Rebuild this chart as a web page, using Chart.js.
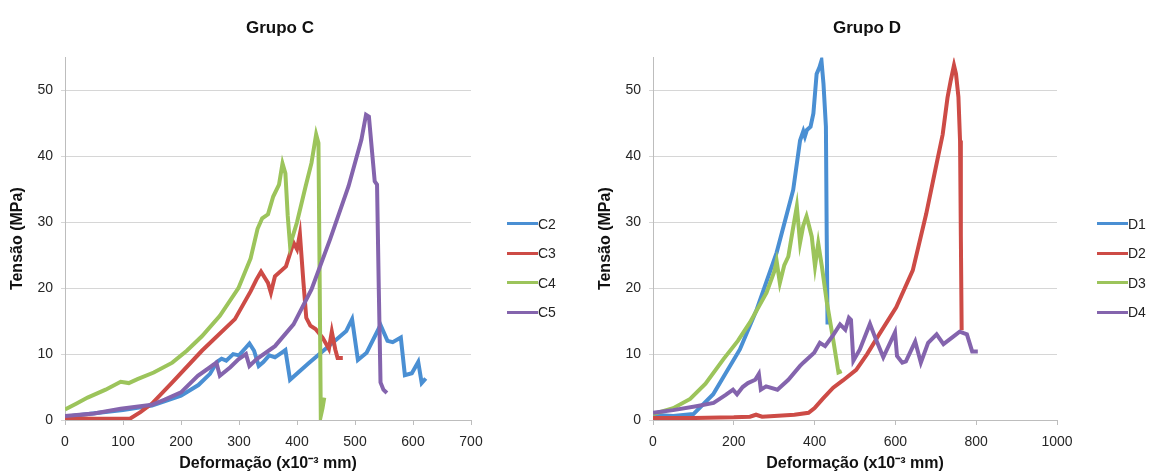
<!DOCTYPE html>
<html>
<head>
<meta charset="utf-8">
<script src="https://cdn.jsdelivr.net/npm/chart.js@4"></script>
<style>
  body { margin: 0; width: 1150px; height: 473px; position: relative; background: #fff; overflow: hidden; }
  .wrap { position: absolute; top: 0; height: 473px; }
  .legend { position: absolute; font-family: 'Liberation Sans', Arial, sans-serif; font-size: 14px; color: #222; }
  .legend div { height: 29.5px; display: flex; align-items: center; }
  .legend span.swatch { display: inline-block; width: 31px; height: 3px; }
</style>
</head>
<body>
<div class="wrap" style="left:0; width:560px"><canvas id="chart-c"></canvas></div>
<div class="wrap" style="left:588px; width:558px"><canvas id="chart-d"></canvas></div>
<div class="legend" id="legend-c" style="left:507px; top:209px"></div>
<div class="legend" id="legend-d" style="left:1097px; top:209px"></div>
<script>
// Grupo C - deformação (x10^-3 mm) / tensão (MPa)
const c2Def = [0, 40, 100, 150, 200, 230, 250, 262, 270, 278, 290, 300, 312, 318, 326, 334, 342, 352, 362, 372, 380, 388, 420, 460, 485, 495, 505, 520, 544, 556, 565, 579, 586, 598, 609, 615, 622];
const c2Ten = [0.5, 0.9, 1.5, 2.2, 3.7, 5.3, 7.0, 8.8, 9.3, 9.0, 10.0, 9.8, 11.0, 11.6, 10.5, 8.2, 8.8, 9.8, 9.5, 10.1, 10.6, 6.1, 8.6, 11.6, 13.5, 15.3, 9.1, 10.2, 14.4, 12.0, 11.8, 12.5, 6.8, 7.1, 8.8, 5.6, 6.3];
const c3Def = [0, 50, 100, 112, 130, 150, 185, 236, 293, 320, 330, 338, 345, 350, 355, 362, 381, 394, 400, 405, 411, 416, 423, 432, 444, 455, 460, 466, 470, 479];
const c3Ten = [0.3, 0.2, 0.2, 0.2, 1.2, 2.5, 5.7, 10.5, 15.3, 19.5, 21.3, 22.5, 21.5, 20.8, 19.3, 21.8, 23.3, 26.9, 25.9, 28.2, 21.0, 15.5, 14.3, 13.8, 12.5, 10.8, 13.4, 10.7, 9.4, 9.4];
const c4Def = [0, 20, 39, 70, 96, 110, 125, 153, 185, 210, 236, 267, 299, 320, 332, 340, 350, 359, 369, 375, 380, 384, 388, 400, 415, 425, 433, 437, 439, 441, 444, 447];
const c4Ten = [1.6, 2.5, 3.4, 4.6, 5.8, 5.6, 6.2, 7.2, 8.7, 10.5, 12.7, 15.8, 20.0, 24.5, 29.0, 30.6, 31.2, 33.9, 35.7, 38.9, 37.4, 31.0, 26.5, 30.0, 35.5, 39.0, 43.3, 42.0, 22.0, 0.6, 1.8, 3.4];
const c5Def = [0, 50, 96, 150, 172, 200, 229, 250, 261, 267, 285, 299, 312, 318, 330, 362, 394, 425, 457, 489, 511, 519, 524, 534, 538, 541, 544, 549, 555];
const c5Ten = [0.6, 1.0, 1.7, 2.3, 3.1, 4.2, 6.7, 8.0, 8.7, 6.7, 8.0, 9.2, 10.0, 8.2, 9.2, 11.2, 14.5, 19.8, 27.4, 35.5, 42.5, 46.3, 46.0, 36.2, 35.7, 20.0, 5.7, 4.6, 4.1];

// Grupo D
const d1Def = [0, 50, 100, 149, 174, 215, 257, 306, 347, 364, 372, 376, 381, 390, 397, 405, 412, 417, 422, 428, 430, 432];
const d1Ten = [0.8, 0.6, 0.9, 3.9, 6.5, 10.7, 16.8, 25.4, 34.9, 42.4, 43.8, 43.0, 44.0, 44.5, 46.5, 52.5, 53.5, 54.5, 51.0, 44.5, 28.0, 14.5];
const d2Def = [0, 100, 200, 240, 255, 270, 300, 350, 385, 400, 420, 446, 470, 503, 530, 561, 602, 643, 676, 700, 717, 729, 737, 745, 750, 756, 760, 762, 764];
const d2Ten = [0.3, 0.3, 0.4, 0.5, 0.8, 0.5, 0.6, 0.8, 1.1, 1.8, 3.2, 4.9, 6.0, 7.6, 10.0, 13.1, 17.1, 22.7, 31.2, 38.3, 43.3, 48.9, 51.5, 53.8, 52.5, 49.0, 42.4, 28.0, 13.6];
const d3Def = [0, 50, 92, 130, 174, 210, 240, 281, 300, 306, 314, 325, 335, 345, 356, 364, 372, 380, 386, 393, 401, 409, 418, 430, 446, 459, 467];
const d3Ten = [0.9, 1.8, 3.2, 5.5, 9.2, 12.0, 14.8, 19.3, 22.5, 24.1, 20.8, 23.5, 24.8, 28.5, 32.4, 26.9, 29.5, 30.9, 29.5, 27.8, 23.3, 26.8, 23.3, 18.0, 12.2, 7.2, 7.4];
const d4Def = [0, 50, 107, 150, 180, 198, 208, 222, 235, 253, 262, 267, 280, 308, 335, 364, 372, 399, 413, 426, 444, 463, 476, 485, 490, 496, 512, 537, 550, 570, 599, 604, 617, 626, 649, 663, 681, 702, 719, 740, 759, 777, 790, 804];
const d4Ten = [1.1, 1.5, 2.1, 2.6, 3.8, 4.6, 3.9, 5.0, 5.6, 6.1, 7.0, 4.6, 5.1, 4.6, 6.1, 8.2, 8.7, 10.2, 11.7, 11.2, 12.7, 14.5, 13.7, 15.5, 15.2, 9.0, 10.7, 14.6, 12.5, 9.5, 13.3, 9.7, 8.7, 8.9, 11.9, 8.7, 11.7, 13.0, 11.5, 12.5, 13.4, 13.0, 10.4, 10.4];

const seriesColors = ['#4a8fd3', '#cd4b46', '#9cc45b', '#8464ad'];

Chart.defaults.font.family = "'Liberation Sans', Arial, sans-serif";
Chart.defaults.color = '#262626';

function makeDatasets(names, defs, tens) {
    return names.map((name, i) => ({
        label: name,
        data: defs[i].map((x, j) => ({ x: x, y: tens[i][j] })),
        xAxisID: 'x',
        yAxisID: 'y',
        borderColor: seriesColors[i],
        backgroundColor: seriesColors[i],
        borderWidth: 4,
        pointRadius: 0,
        tension: 0,
        fill: false,
        order: names.length - i   // later series drawn on top, like the original
    }));
}

// legendSpace: empty room right of the plot (the html legend sits there),
// kept as a blank right-hand box so the title still centres on the whole canvas
function buildChart(canvasId, title, datasets, xMax, xStep, legendSpace) {
    return new Chart(document.getElementById(canvasId), {
        type: 'line',
        data: { datasets: datasets },
        options: {
            responsive: true,
            maintainAspectRatio: false,
            animation: false,
            layout: { padding: 0 },
            plugins: {
                legend: { display: false },
                tooltip: { enabled: false },
                title: {
                    display: true,
                    text: title,
                    color: '#111',
                    font: { size: 17, weight: 'bold' },
                    padding: { top: 18, bottom: 19 }
                }
            },
            scales: {
                x: {
                    type: 'linear',
                    min: 0,
                    max: xMax,
                    ticks: { stepSize: xStep, padding: 9, font: { size: 14 }, callback: v => String(v) },
                    grid: { drawOnChartArea: false, drawTicks: true, tickLength: 5, color: '#bdbdbd' },
                    border: { color: '#bdbdbd' },
                    title: { display: true, text: 'Deformação (x10⁻³ mm)', color: '#111', font: { size: 16, weight: 'bold' }, padding: { top: 0, bottom: 0 } },
                    afterFit: scale => { scale.height = 53; }
                },
                y: {
                    min: 0,
                    max: 55,
                    ticks: { stepSize: 10, padding: 8, font: { size: 14 } },
                    afterBuildTicks: scale => { scale.ticks = scale.ticks.filter(t => t.value % 10 === 0); },
                    grid: { color: '#d6d6d6', tickLength: 4 },
                    border: { color: '#bdbdbd' },
                    title: { display: true, text: 'Tensão (MPa)', color: '#111', font: { size: 16, weight: 'bold' }, padding: { top: 8, bottom: 0 } },
                    afterFit: scale => { scale.width = 65; }
                },
                legendRoom: {
                    axis: 'y',
                    position: 'right',
                    min: 0,
                    max: 55,
                    ticks: { display: false },
                    grid: { display: false },
                    border: { display: false },
                    afterFit: scale => { scale.width = legendSpace; }
                }
            }
        }
    });
}

function buildLegend(elemId, datasets) {
    const box = document.getElementById(elemId);
    box.innerHTML = datasets.map(ds =>
        `<div><span class="swatch" style="background:${ds.borderColor}"></span><span>${ds.label}</span></div>`
    ).join('');
}

const dsC = makeDatasets(['C2', 'C3', 'C4', 'C5'], [c2Def, c3Def, c4Def, c5Def], [c2Ten, c3Ten, c4Ten, c5Ten]);
const dsD = makeDatasets(['D1', 'D2', 'D3', 'D4'], [d1Def, d2Def, d3Def, d4Def], [d1Ten, d2Ten, d3Ten, d4Ten]);

buildChart('chart-c', 'Grupo C', dsC, 700, 100, 89);
buildChart('chart-d', 'Grupo D', dsD, 1000, 200, 89);
buildLegend('legend-c', dsC);
buildLegend('legend-d', dsD);
</script>
</body>
</html>
